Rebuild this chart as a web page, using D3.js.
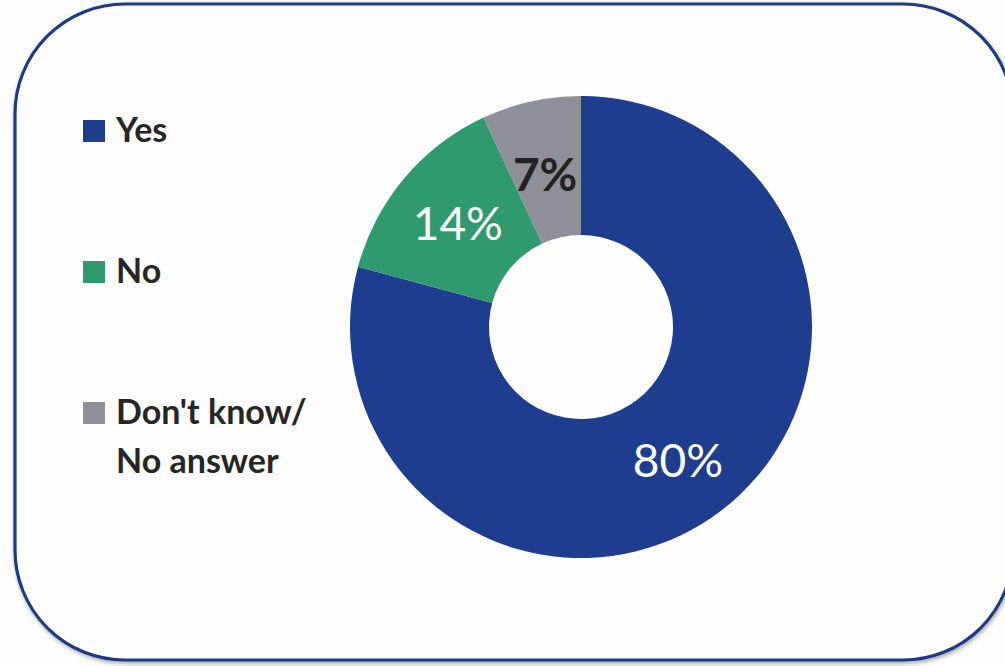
<!DOCTYPE html>
<html>
<head>
<meta charset="utf-8">
<script src="https://cdn.jsdelivr.net/npm/d3@7/dist/d3.min.js"></script>
<style>
  html, body { margin: 0; padding: 0; background: #fdfdfd; overflow: hidden; }
  svg { display: block; }
</style>
</head>
<body>
<svg id="chart" width="1005" height="666"></svg>
<script>
const categories = ["Yes", "No", "Don't know/\nNo answer"];
const values = [80, 14, 7];
const valueLabels = ["80%", "14%", "7%"];
const colors = ["#1f3d8e", "#2e9a6d", "#8f8f99"];
const labelColors = ["#ffffff", "#ffffff", "#222222"];
const labelWeights = ["normal", "normal", "bold"];

const svg = d3.select("#chart");
const font = "Lato, 'Open Sans', sans-serif";

// frame
const defs = svg.append("defs");
const f = defs.append("filter").attr("id", "sh").attr("x", "-5%").attr("y", "-5%").attr("width", "110%").attr("height", "110%");
f.append("feGaussianBlur").attr("in", "SourceAlpha").attr("stdDeviation", 2).attr("result", "b");
f.append("feOffset").attr("in", "b").attr("dx", 1).attr("dy", 2).attr("result", "o");
f.append("feComponentTransfer").attr("in", "o").attr("result", "o2")
  .append("feFuncA").attr("type", "linear").attr("slope", 0.35);
const m = f.append("feMerge");
m.append("feMergeNode").attr("in", "o2");
m.append("feMergeNode").attr("in", "SourceGraphic");

svg.append("rect")
  .attr("x", 15).attr("y", 4).attr("width", 998).attr("height", 656)
  .attr("rx", 110).attr("ry", 110)
  .attr("fill", "#fefefe").attr("stroke", "#1d3a85").attr("stroke-width", 3.2)
  .attr("filter", "url(#sh)");

// donut
const cx = 581, cy = 327, outerR = 231, innerR = 92;
const pie = d3.pie().sort(null).value(d => d)(values);
const arc = d3.arc().innerRadius(innerR).outerRadius(outerR);
const g = svg.append("g").attr("transform", `translate(${cx},${cy})`);
g.selectAll("path.slice").data(pie).join("path")
  .attr("class", "slice")
  .attr("d", arc)
  .attr("fill", (d, i) => colors[i]);

// labels
const labelRadii = [165, 161, 157];
const labelAngleShift = [0.025, 0.0, -0.013];
g.selectAll("text.val").data(pie).join("text")
  .attr("class", "val")
  .attr("transform", (d, i) => {
    const a = (d.startAngle + d.endAngle) / 2 + labelAngleShift[i];
    const r = labelRadii[i];
    return `translate(${r * Math.sin(a)},${-r * Math.cos(a)})`;
  })
  .attr("text-anchor", "middle")
  .attr("dy", "0.36em")
  .attr("font-family", font)
  .attr("font-size", 46)
  .attr("font-weight", (d, i) => labelWeights[i])
  .attr("fill", (d, i) => labelColors[i])
  .text((d, i) => valueLabels[i]);

// legend
const legendY = [142, 283, 424];
const leg = svg.append("g");
categories.forEach((c, i) => {
  leg.append("rect")
    .attr("x", 83).attr("y", legendY[i] - 22)
    .attr("width", 22).attr("height", 22)
    .attr("fill", colors[i]);
  const t = leg.append("text")
    .attr("x", 116).attr("y", legendY[i])
    .attr("font-family", font)
    .attr("font-size", 34)
    .attr("font-weight", "bold")
    .attr("fill", "#262626");
  c.split("\n").forEach((line, j) => {
    t.append("tspan").attr("x", 116).attr("dy", j === 0 ? 0 : 49).text(line);
  });
});
</script>
</body>
</html>
